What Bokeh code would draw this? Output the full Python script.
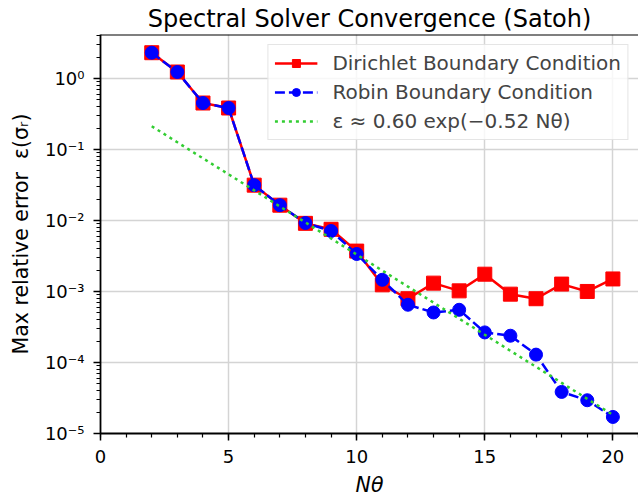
from bokeh.plotting import figure
from bokeh.models import (Range1d, LogTicker, SingleIntervalTicker,
                          CustomJSTickFormatter, Span)
from bokeh.embed import file_html
from bokeh.resources import INLINE

# ---- data ----
n_theta = [2, 3, 4, 5, 6, 7, 8, 9, 10, 11, 12, 13, 14, 15, 16, 17, 18, 19, 20]
dirichlet = [2.30, 1.23, 0.45, 0.383, 0.0314, 0.0164, 0.0091, 0.0075, 0.0037,
             0.00124, 0.00079, 0.00131, 0.00102, 0.00175, 0.000916, 0.00079,
             0.00127, 0.00100, 0.00150]
robin = [2.30, 1.23, 0.45, 0.383, 0.0314, 0.0164, 0.0092, 0.0071, 0.00337,
         0.00146, 0.00065, 0.000506, 0.000552, 0.000265, 0.000238, 0.000129,
         3.85e-5, 2.94e-5, 1.71e-5]
# fit  eps ~ 0.60 exp(-0.52 N)
fit = [0.212, 0.126, 0.0749, 0.0446, 0.0265, 0.01575, 0.00937, 0.00557,
       0.00331, 0.00197, 0.00117, 0.000696, 0.000414, 0.000246, 0.000146,
       8.69e-5, 5.17e-5, 3.07e-5, 1.83e-5]

title_text = "Spectral Solver Convergence (Satoh)"
label_dir = "Dirichlet Boundary Condition"
label_rob = "Robin Boundary Condition"
label_fit = "ε ≈ 0.60 exp(−0.52 Nθ)"
ylabel = "Max relative error\u00a0\u00a0ε(σᵣ)"
xlabel = "Nθ"

FONT = "DejaVu Sans"

p = figure(width=638, height=499, output_backend="svg", toolbar_location=None,
           y_axis_type="log",
           x_range=Range1d(0, 21), y_range=Range1d(1e-5, 4.15),
           min_border_left=100, min_border_right=0,
           min_border_top=34, min_border_bottom=65)

p.title.text = title_text
p.title.align = "center"
p.title.vertical_align = "top"
p.title.text_font = FONT
p.title.text_font_size = "24px"
p.title.text_font_style = "normal"
p.title.text_color = "black"
p.title.standoff = 0

p.outline_line_color = None
p.background_fill_color = "white"
p.border_fill_color = "white"

# grid
for g in (p.xgrid, p.ygrid):
    g.grid_line_color = "#d4d4d4"
    g.grid_line_width = 1.5

# x axis
p.xaxis.ticker = SingleIntervalTicker(interval=5, num_minor_ticks=5)
# y axis
p.yaxis.ticker = LogTicker(desired_num_ticks=7, num_minor_ticks=10)
p.yaxis.formatter = CustomJSTickFormatter(code="""
const e = Math.round(Math.log10(tick));
const sup = {'-':'\u207b','0':'\u2070','1':'\u00b9','2':'\u00b2','3':'\u00b3',
             '4':'\u2074','5':'\u2075','6':'\u2076','7':'\u2077','8':'\u2078','9':'\u2079'};
return '10' + String(e).split('').map(c => sup[c]).join('');
""")

for ax in (p.xaxis, p.yaxis):
    ax.axis_line_color = "black"
    ax.axis_line_width = 1.8
    ax.major_tick_line_color = "black"
    ax.major_tick_line_width = 1.5
    ax.minor_tick_line_color = "black"
    ax.minor_tick_line_width = 1.2
    ax.major_tick_in = 0
    ax.major_tick_out = 7
    ax.minor_tick_in = 0
    ax.minor_tick_out = 4
    ax.major_label_text_font = FONT
    ax.major_label_text_font_size = "18px"
    ax.major_label_text_color = "black"
    ax.major_label_standoff = 9
    ax.axis_label_text_font = FONT
    ax.axis_label_text_font_size = "20.5px"
    ax.axis_label_text_color = "black"

p.yaxis.axis_label = ylabel
p.yaxis.axis_label_text_font_style = "normal"
p.yaxis.axis_label_standoff = 9
p.xaxis.axis_label = xlabel
p.xaxis.axis_label_text_font_style = "italic"
p.xaxis.axis_label_standoff = 7

# top spine
p.add_layout(Span(location=4.15, dimension="width", line_color="black", line_width=1.8))

# series
p.line(n_theta, dirichlet, line_color="#ff0000", line_width=2.5, legend_label=label_dir)
p.scatter(n_theta, dirichlet, marker="square", size=14, fill_color="#ff0000",
          line_color="#ff0000", legend_label=label_dir)
p.line(n_theta, robin, line_color="#0000ff", line_width=2.5, line_dash="10 4",
       legend_label=label_rob)
p.scatter(n_theta, robin, marker="circle", size=13, fill_color="#0000ff",
          line_color="#0000ff", legend_label=label_rob)
p.line(n_theta, fit, line_color="#32cd32", line_width=2.5, line_dash="3 4",
       legend_label=label_fit)

lg = p.legend[0]
lg.location = "top_right"
lg.margin = 10
lg.padding = 6
lg.spacing = 5
lg.glyph_width = 43
lg.glyph_height = 20
lg.label_standoff = 15
lg.label_text_font = FONT
lg.label_text_font_size = "20px"
lg.border_line_color = "#cccccc"
lg.border_line_width = 1
lg.background_fill_alpha = 0.8

open("out.html", "w").write(file_html(p, INLINE))
